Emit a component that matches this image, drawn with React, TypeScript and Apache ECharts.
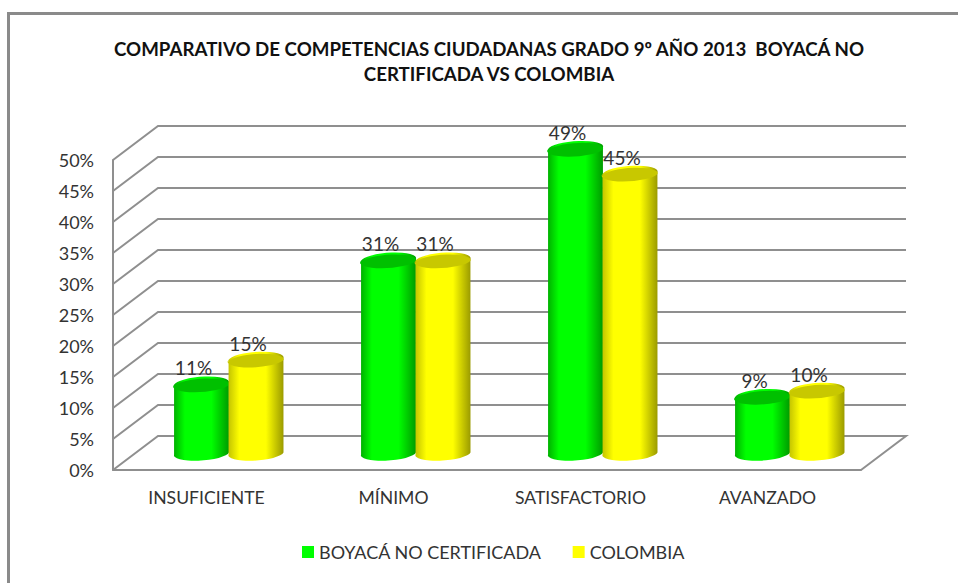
import React, { useEffect, useRef } from "react";
import * as echarts from "echarts";

const titleText =
  "COMPARATIVO DE COMPETENCIAS CIUDADANAS GRADO 9º AÑO 2013  BOYACÁ NO\nCERTIFICADA VS COLOMBIA";
const categories = ["INSUFICIENTE", "MÍNIMO", "SATISFACTORIO", "AVANZADO"];
const boyacaName = "BOYACÁ NO CERTIFICADA";
const colombiaName = "COLOMBIA";
const boyacaValues = [11, 31, 49, 9];
const colombiaValues = [15, 31, 45, 10];
const wallTicks = [0, 5, 10, 15, 20, 25, 30, 35, 40, 45, 50];

const FONT = "Lato, 'Open Sans', sans-serif";
const GRID_COLOR = "#8f8f8f";
const DEPTH_X = 45;
const DEPTH_Y = -34;
const TILT = (4 * Math.PI) / 180;
const RX = 27.5;
const RY = 7;

function cylinderRender(
  xOffset: number,
  body: { edge: string; mid: string; far: string },
  top: string
) {
  return (params: any, api: any) => {
    const cat = api.value(0);
    const val = api.value(1);
    const t = api.coord([cat, val]);
    const b = api.coord([cat, 0]);
    const cx = t[0] + DEPTH_X / 2 + xOffset;
    const topY = t[1] + DEPTH_Y / 2;
    const baseY = b[1] + DEPTH_Y / 2 - 0.5;
    const dx = RX * Math.cos(TILT);
    const dy = RX * Math.sin(TILT);
    const rot = (-TILT * 180) / Math.PI;
    const bodyPath =
      `M${cx - dx} ${topY + dy} L${cx - dx} ${baseY + dy} ` +
      `A${RX} ${RY} ${rot} 0 0 ${cx + dx} ${baseY - dy} ` +
      `L${cx + dx} ${topY - dy} A${RX} ${RY} ${rot} 0 0 ${cx - dx} ${topY + dy} Z`;
    const topPath =
      `M${cx - dx} ${topY + dy} A${RX} ${RY} ${rot} 0 1 ${cx + dx} ${topY - dy} ` +
      `A${RX} ${RY} ${rot} 0 1 ${cx - dx} ${topY + dy} Z`;
    return {
      type: "group",
      children: [
        {
          type: "path",
          shape: { pathData: bodyPath },
          style: {
            fill: new echarts.graphic.LinearGradient(0, 0, 1, 0, [
              { offset: 0, color: body.edge },
              { offset: 0.2, color: body.mid },
              { offset: 0.68, color: body.mid },
              { offset: 1, color: body.far },
            ]),
          },
        },
        { type: "path", shape: { pathData: topPath }, style: { fill: top } },
        {
          type: "text",
          style: {
            x: cx - 8,
            y: topY - 17,
            text: `${val}%`,
            fill: "#333333",
            font: `19px ${FONT}`,
            align: "center",
            verticalAlign: "middle",
          },
        },
      ],
    };
  };
}

function wallRender(params: any, api: any) {
  const tick = api.value(1);
  const p = api.coord([0, tick]);
  const cs = params.coordSys;
  const x0 = cs.x;
  const x1 = cs.x + cs.width;
  const y = p[1];
  const pts: number[][] =
    tick === 0
      ? [
          [x0, y],
          [x0 + DEPTH_X, y + DEPTH_Y],
          [x1 + DEPTH_X, y + DEPTH_Y],
          [x1, y],
        ]
      : [
          [x0, y],
          [x0 + DEPTH_X, y + DEPTH_Y],
          [x1 + DEPTH_X, y + DEPTH_Y],
        ];
  return {
    type: "polyline",
    shape: { points: pts },
    style: { stroke: GRID_COLOR, lineWidth: 2, fill: "none" },
  };
}

export default function App() {
  const ref = useRef<HTMLDivElement>(null);
  useEffect(() => {
    if (!ref.current) return;
    const chart = echarts.init(ref.current, undefined, { renderer: "svg" });
    chart.setOption({
      animation: false,
      backgroundColor: "#ffffff",
      color: ["#00ff00", "#ffff00"],
      title: {
        text: titleText,
        left: 484,
        top: 31,
        textAlign: "center",
        textStyle: {
          fontFamily: FONT,
          fontSize: 18.7,
          fontWeight: "bold",
          color: "#111111",
          lineHeight: 25,
        },
      },
      legend: {
        data: [boyacaName, colombiaName],
        left: 297,
        top: 538,
        icon: "rect",
        itemWidth: 12,
        itemHeight: 12,
        itemGap: 31,
        textStyle: { fontFamily: FONT, fontSize: 18, color: "#333333" },
        selectedMode: false,
      },
      grid: { left: 113, right: 97, top: 160, bottom: 113 },
      xAxis: {
        type: "category",
        data: categories,
        axisTick: { show: false },
        axisLine: { show: true, lineStyle: { color: GRID_COLOR, width: 2 } },
        axisLabel: { fontFamily: FONT, fontSize: 17.6, color: "#333333", margin: 18 },
        splitLine: { show: false },
      },
      yAxis: {
        type: "value",
        min: 0,
        max: 50,
        interval: 5,
        axisTick: { show: false },
        axisLine: { show: true, lineStyle: { color: GRID_COLOR, width: 2 } },
        axisLabel: { formatter: "{value}%", fontFamily: FONT, fontSize: 18, color: "#333333", margin: 19 },
        splitLine: { show: false },
      },
      graphic: [
        {
          type: "polyline",
          shape: { points: [[8.5, 583], [8.5, 13.5], [958, 13.5]] },
          style: { stroke: "#8a8a8a", lineWidth: 3, fill: "none" },
          silent: true,
        },
      ],
      series: [
        {
          type: "custom",
          name: "wall",
          renderItem: wallRender,
          data: wallTicks.map((t) => [0, t]),
          encode: { x: 0, y: 1 },
          silent: true,
          clip: false,
          z: 1,
        },
        {
          type: "custom",
          name: boyacaName,
          itemStyle: { color: "#00ff00" },
          renderItem: cylinderRender(-27.5, { edge: "#00b000", mid: "#00ff00", far: "#009a00" }, "#00c000"),
          data: boyacaValues.map((v, i) => [i, v]),
          encode: { x: 0, y: 1 },
          clip: false,
          z: 2,
        },
        {
          type: "custom",
          name: colombiaName,
          itemStyle: { color: "#ffff00" },
          renderItem: cylinderRender(27, { edge: "#c4c400", mid: "#ffff00", far: "#9a9a00" }, "#c8c800"),
          data: colombiaValues.map((v, i) => [i, v]),
          encode: { x: 0, y: 1 },
          clip: false,
          z: 3,
        },
      ],
    });
    return () => chart.dispose();
  }, []);
  return (
    <div
      ref={ref}
      style={{ position: "absolute", left: 0, top: 0, width: 958, height: 583 }}
    />
  );
}
